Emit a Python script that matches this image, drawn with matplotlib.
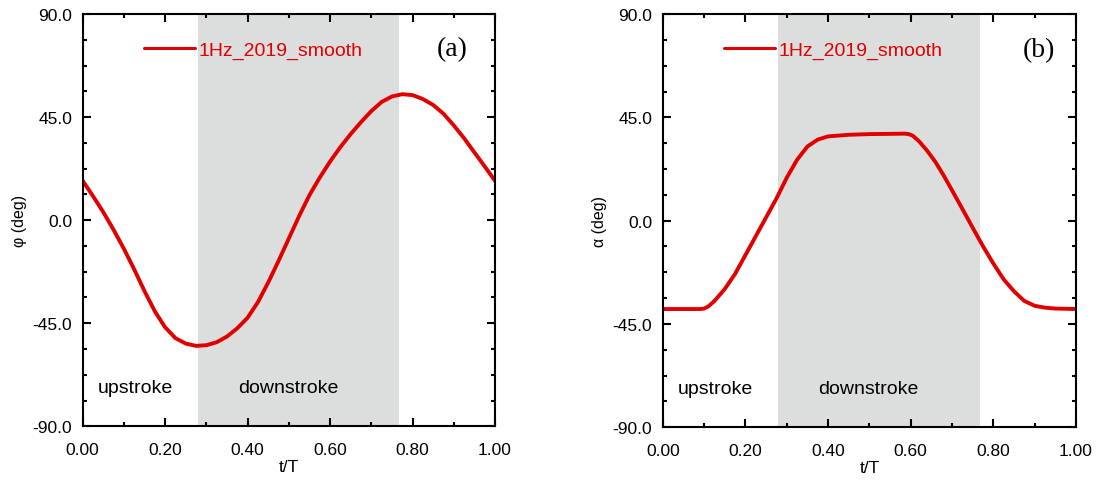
import matplotlib
matplotlib.use("Agg")
import matplotlib.pyplot as plt
from matplotlib.ticker import MultipleLocator, FormatStrFormatter

plt.rcParams['font.family'] = ['Liberation Sans', 'DejaVu Sans']

# flapping angle phi over one cycle
t_phi = [0, 0.025, 0.05, 0.075, 0.1, 0.125, 0.15, 0.175, 0.2, 0.225, 0.25, 0.275,
         0.3, 0.325, 0.35, 0.375, 0.4, 0.425, 0.45, 0.475, 0.5, 0.525, 0.55, 0.575,
         0.6, 0.625, 0.65, 0.675, 0.7, 0.725, 0.75, 0.775, 0.8, 0.825, 0.85, 0.875,
         0.9, 0.925, 0.95, 0.975, 1.0]
phi = [17.2, 10.5, 3.5, -4.2, -12.5, -21.5, -31.0, -39.8, -46.8, -51.5, -53.9, -54.9,
       -54.6, -53.3, -50.8, -47.2, -42.6, -35.8, -27.2, -17.8, -8.0, 1.8, 10.9, 18.6,
       25.6, 31.9, 37.6, 42.8, 47.6, 51.6, 54.0, 55.0, 54.6, 52.9, 50.3, 46.5,
       41.4, 35.8, 29.6, 23.5, 17.2]

# pitch angle alpha over one cycle
t_alpha = [0, 0.05, 0.09, 0.1, 0.11, 0.125, 0.15, 0.175, 0.2, 0.225, 0.25, 0.275,
           0.3, 0.325, 0.35, 0.375, 0.4, 0.45, 0.5, 0.55, 0.585, 0.595, 0.605, 0.62,
           0.64, 0.66, 0.68, 0.7, 0.725, 0.75, 0.775, 0.8, 0.825, 0.85, 0.875, 0.9,
           0.925, 0.95, 1.0]
alpha = [-38.5, -38.5, -38.5, -38.3, -37.4, -35.0, -29.8, -23.2, -15.0, -6.8, 1.4, 9.6,
         18.7, 26.5, 32.3, 35.3, 36.7, 37.4, 37.7, 37.8, 37.9, 37.7, 37.0, 34.6,
         30.4, 25.5, 19.6, 13.2, 5.1, -3.1, -11.2, -18.7, -25.6, -30.8, -35.0, -37.1,
         -37.9, -38.3, -38.5]

down_start, down_end = 0.28, 0.767
red = '#e00000'

fig = plt.figure(figsize=(10.98, 4.85), dpi=100)
ax1 = fig.add_axes([0.0753, 0.119, 0.3755, 0.850])
ax2 = fig.add_axes([0.6036, 0.117, 0.3764, 0.852])

panels = [(ax1, t_phi, phi, 'φ (deg)', '(a)', 0.896),
          (ax2, t_alpha, alpha, 'α (deg)', '(b)', 0.91)]

for ax, t, y, ylab, tag, tag_x in panels:
    ax.axvspan(down_start, down_end, color='#dcdddd', lw=0, zorder=0)
    ax.plot(t, y, color=red, lw=2.8, label='1Hz_2019_smooth',
            solid_capstyle='round', solid_joinstyle='round')
    ax.set_xlim(0, 1)
    ax.set_ylim(-90, 90)
    ax.xaxis.set_major_locator(MultipleLocator(0.2))
    ax.xaxis.set_minor_locator(MultipleLocator(0.1))
    ax.yaxis.set_major_locator(MultipleLocator(45))
    ax.yaxis.set_minor_locator(MultipleLocator(11.25))
    ax.xaxis.set_major_formatter(FormatStrFormatter('%.2f'))
    ax.yaxis.set_major_formatter(FormatStrFormatter('%.1f'))
    ax.tick_params(which='both', direction='in', top=True, right=True, width=1.5,
                   labelsize=12.5)
    ax.tick_params(which='major', length=6)
    ax.tick_params(which='minor', length=3.2)
    ax.tick_params(axis='x', pad=11)
    ax.tick_params(axis='y', pad=7.5)
    for s in ax.spines.values():
        s.set_linewidth(1.5)
    ax.set_xlabel('t/T', fontsize=12.5, labelpad=1.5)
    ax.set_ylabel(ylab, fontsize=11.5, labelpad=4)

    ax.text(0.037, -73, 'upstroke', fontsize=14, va='center', ha='left')
    ax.text(0.377, -73, 'downstroke', fontsize=14, va='center', ha='left')
    ax.text(tag_x, 74.7, tag, fontsize=20, va='center', ha='center',
            family=['Liberation Serif', 'DejaVu Serif'])

    leg = ax.legend(loc='center left', bbox_to_anchor=(0.149, 0.912), frameon=False,
                    fontsize=14, labelcolor=red, handlelength=2.6, handletextpad=0.2,
                    borderpad=0, borderaxespad=0)
    leg.get_lines()[0].set_linewidth(2.2)

fig.savefig('out.png', dpi=100)
